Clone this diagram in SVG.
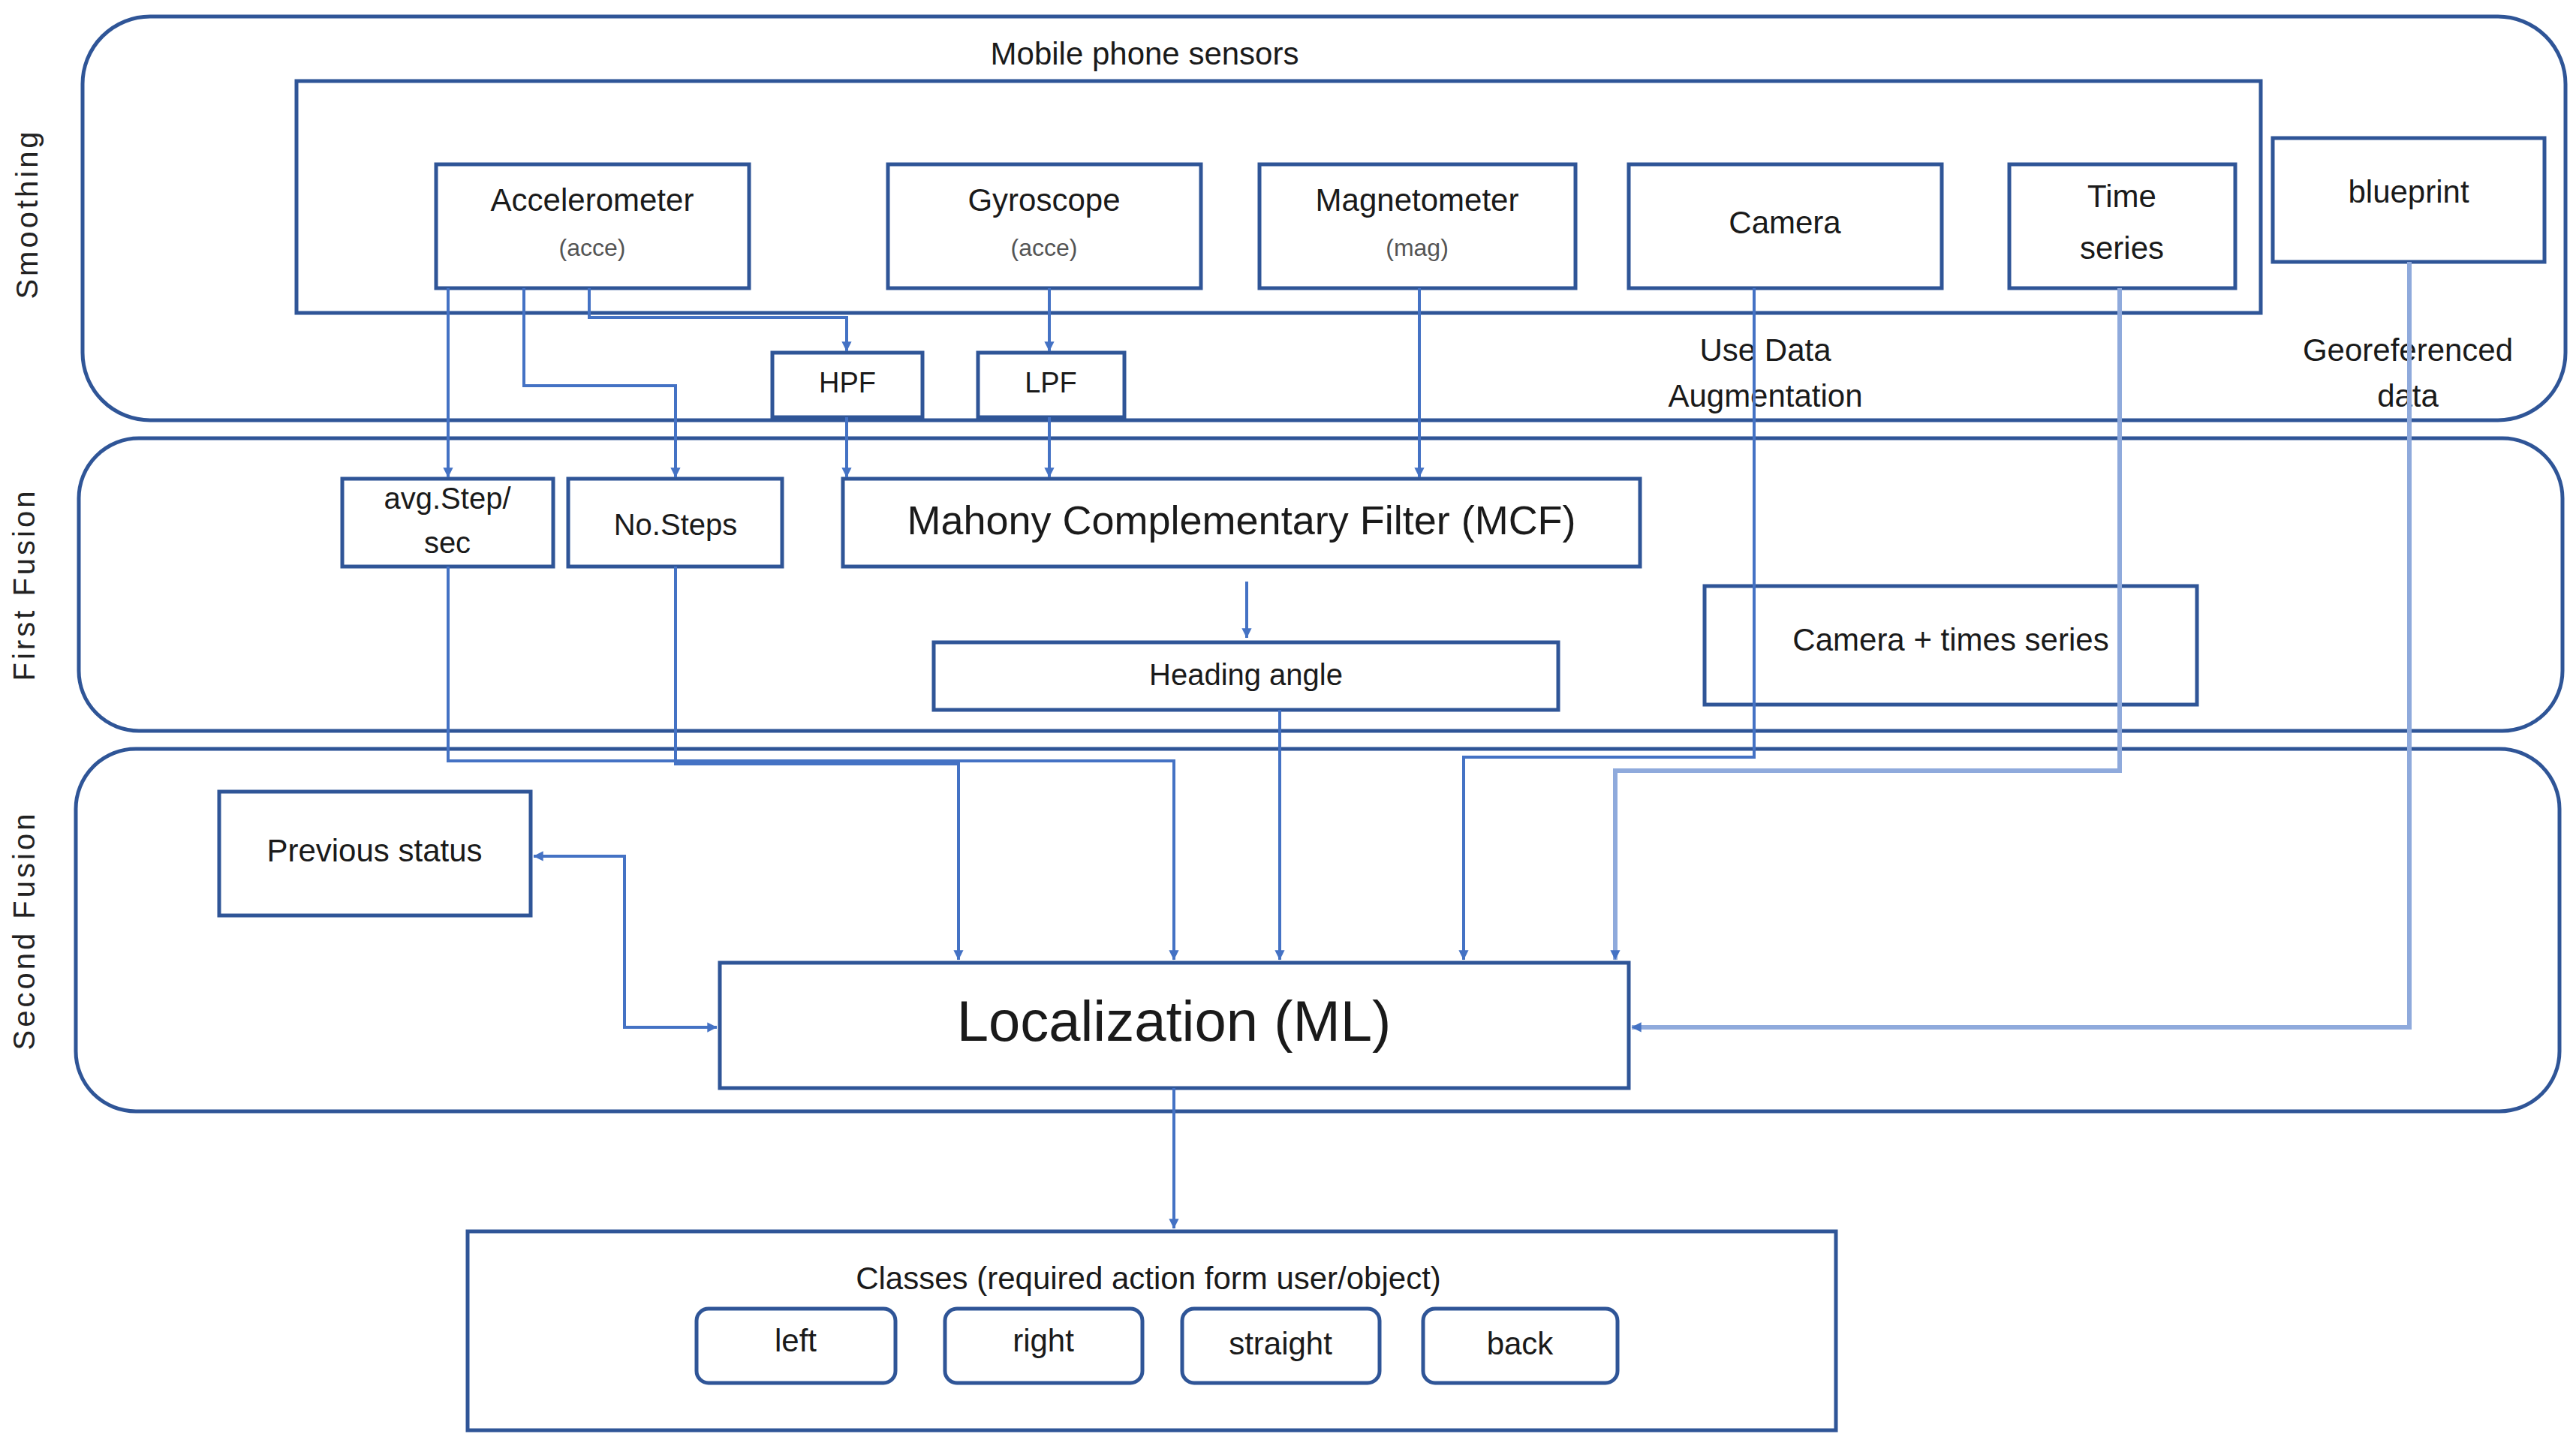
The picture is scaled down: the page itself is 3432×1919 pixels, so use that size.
<svg xmlns="http://www.w3.org/2000/svg" width="3432" height="1919" viewBox="0 0 3432 1919">
<defs>
<marker id="ar" viewBox="0 0 10 10" refX="9" refY="5" markerWidth="6" markerHeight="6" orient="auto-start-reverse" markerUnits="userSpaceOnUse" style="overflow:visible"><path d="M0,0 L10,5 L0,10 z" fill="#4472C4" transform="scale(2.2) translate(-5.5,-2.7)"/></marker>
<style>
.band{fill:none;stroke:#2F5597;stroke-width:5}
.box{fill:#fff;stroke:#2F5597;stroke-width:5}
.t{font-family:"Liberation Sans",Arial,sans-serif;fill:#1a1a1a;text-anchor:middle;dominant-baseline:middle}
.s{font-size:42px}
.sm{font-size:32px;fill:#555}
.side{font-family:"Liberation Sans",Arial,sans-serif;font-size:40px;fill:#222;text-anchor:middle;letter-spacing:4px}
.c{fill:none;stroke:#4472C4;stroke-width:4}
.cl{fill:none;stroke:#8FAADC;stroke-width:6}
</style>
</defs>
<g id="bands">
<rect class="band" x="110" y="22" width="3308" height="538" rx="90"/>
<rect class="band" x="105" y="584" width="3309" height="390" rx="80"/>
<rect class="band" x="101" y="998" width="3309" height="483" rx="80"/>
<text class="side" transform="translate(50,285) rotate(-90)">Smoothing</text>
<text class="side" transform="translate(46,779) rotate(-90)">First Fusion</text>
<text class="side" transform="translate(46,1240) rotate(-90)">Second Fusion</text>
</g>
<g id="sensors">
<rect class="box" x="395" y="108" width="2617" height="309"/>
<text class="t s" x="1525" y="75">Mobile phone sensors</text>
</g>
<g id="acc"><rect class="box" x="581" y="219" width="417" height="165"/><text class="t s" x="789" y="270">Accelerometer</text><text class="t sm" x="789" y="333">(acce)</text></g>
<g id="gyro"><rect class="box" x="1183" y="219" width="417" height="165"/><text class="t s" x="1391" y="270">Gyroscope</text><text class="t sm" x="1391" y="333">(acce)</text></g>
<g id="mag"><rect class="box" x="1678" y="219" width="421" height="165"/><text class="t s" x="1888" y="270">Magnetometer</text><text class="t sm" x="1888" y="333">(mag)</text></g>
<g id="camera"><rect class="box" x="2170" y="219" width="417" height="165"/><text class="t s" x="2378" y="300">Camera</text></g>
<g id="timeseries"><rect class="box" x="2677" y="219" width="301" height="165"/><text class="t s" x="2827" y="265">Time</text><text class="t s" x="2827" y="334">series</text></g>
<g id="blueprint"><rect class="box" x="3028" y="184" width="362" height="165"/><text class="t s" x="3209" y="259">blueprint</text></g>
<g id="hpf"><rect class="box" x="1029" y="470" width="200" height="86"/><text class="t" style="font-size:38px" x="1129" y="513">HPF</text></g>
<g id="lpf"><rect class="box" x="1303" y="470" width="195" height="86"/><text class="t" style="font-size:38px" x="1400" y="513">LPF</text></g>
<g id="notes">
<text class="t s" x="2352" y="470">Use Data</text><text class="t s" x="2352" y="531">Augmentation</text>
<text class="t s" x="3208" y="470">Georeferenced</text><text class="t s" x="3208" y="531">data</text>
</g>
<g id="avgstep"><rect class="box" x="456" y="638" width="281" height="117"/><text class="t" style="font-size:40px" x="596" y="667">avg.Step/</text><text class="t" style="font-size:40px" x="596" y="726">sec</text></g>
<g id="nosteps"><rect class="box" x="757" y="638" width="285" height="117"/><text class="t" style="font-size:40px" x="900" y="702">No.Steps</text></g>
<g id="mcf"><rect class="box" x="1123" y="638" width="1062" height="117"/><text class="t" style="font-size:54px" x="1654" y="698">Mahony Complementary Filter (MCF)</text></g>
<g id="heading"><rect class="box" x="1244" y="856" width="832" height="90"/><text class="t" style="font-size:40px" x="1660" y="902">Heading angle</text></g>
<g id="camts"><rect class="box" x="2271" y="781" width="656" height="158"/><text class="t s" x="2599" y="856">Camera + times series</text></g>
<g id="prev"><rect class="box" x="292" y="1055" width="415" height="165"/><text class="t s" x="499" y="1137">Previous status</text></g>
<g id="loc"><rect class="box" x="959" y="1283" width="1211" height="167"/><text class="t" style="font-size:76px" x="1564" y="1367">Localization (ML)</text></g>
<g id="classes"><rect class="box" x="623" y="1641" width="1823" height="265"/><text class="t s" x="1530" y="1707">Classes (required action form user/object)</text></g>
<g id="left"><rect class="box" x="928" y="1744" width="265" height="99" rx="16"/><text class="t s" x="1060" y="1790">left</text></g>
<g id="right"><rect class="box" x="1259" y="1744" width="263" height="99" rx="16"/><text class="t s" x="1390" y="1790">right</text></g>
<g id="straight"><rect class="box" x="1575" y="1744" width="263" height="99" rx="16"/><text class="t s" x="1706" y="1794">straight</text></g>
<g id="back"><rect class="box" x="1896" y="1744" width="259" height="99" rx="16"/><text class="t s" x="2025" y="1794">back</text></g>
<g id="connectors">
<path class="c" d="M597,384 V636" marker-end="url(#ar)"/>
<path class="c" d="M698,384 V514 H900 V636" marker-end="url(#ar)"/>
<path class="c" d="M785,384 V423 H1128 V468" marker-end="url(#ar)"/>
<path class="c" d="M1398,384 V468" marker-end="url(#ar)"/>
<path class="c" d="M1128,556 V636" marker-end="url(#ar)"/>
<path class="c" d="M1398,556 V636" marker-end="url(#ar)"/>
<path class="c" d="M1891,384 V636" marker-end="url(#ar)"/>
<path class="c" d="M1661,775 V850" marker-end="url(#ar)"/>
<path class="c" d="M597,755 V1014 H1564 V1279" marker-end="url(#ar)"/>
<path class="c" d="M900,755 V1018 H1277 V1279" marker-end="url(#ar)"/>
<path class="c" d="M1705,946 V1279" marker-end="url(#ar)"/>
<path class="c" d="M2337,384 V1009 H1950 V1279" marker-end="url(#ar)"/>
<path class="cl" d="M2824,384 V1027 H2152 V1279" marker-end="url(#ar)"/>
<path class="cl" d="M3210,349 V1369 H2174" marker-end="url(#ar)"/>
<path class="c" d="M711,1141 H832 V1369 H955" marker-start="url(#ar)" marker-end="url(#ar)"/>
<path class="c" d="M1564,1450 V1637" marker-end="url(#ar)"/>
</g>
</svg>
